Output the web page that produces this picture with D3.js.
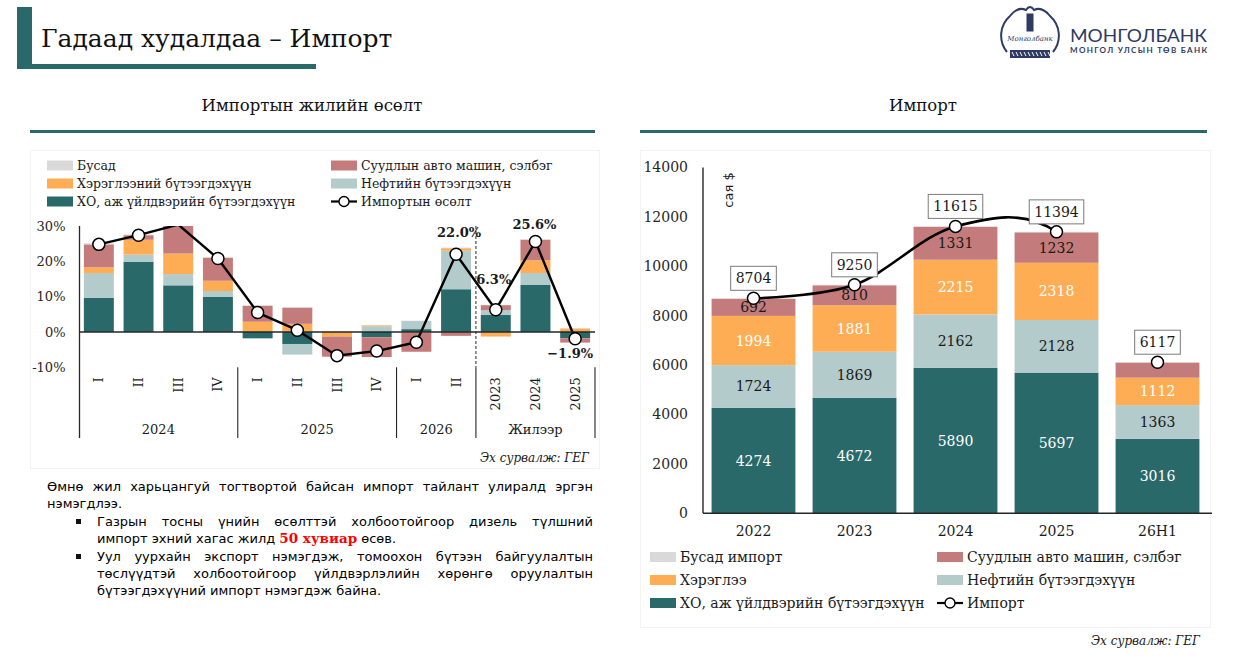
<!DOCTYPE html>
<html>
<head>
<meta charset="utf-8">
<script src="https://cdn.jsdelivr.net/npm/d3@7"></script>
<style>
  body { margin: 0; background: #fff; }
  #wrap { position: relative; width: 1239px; height: 665px; overflow: hidden; background: #fff; }
  #wrap svg { position: absolute; left: 0; top: 0; }
  #note { position: absolute; left: 47px; top: 478px; width: 546px;
          font-family: 'DejaVu Sans', sans-serif; font-size: 13px; line-height: 17px; color: #000; }
  #note .j { text-align: justify; text-align-last: justify; }
  #note .blk { position: relative; padding-left: 50px; margin-top: 1px; }
  #note .blk::before { content: ''; position: absolute; left: 29px; top: 6px; width: 5px; height: 5px; background: #111; }
  #note .red { color: #f00; font-weight: bold; font-family: 'DejaVu Serif', serif; font-size: 13.5px; }
</style>
</head>
<body>
<div id="wrap">
  <div id="note">
    <div class="j">Өмнө жил харьцангуй тогтвортой байсан импорт тайлант улиралд эргэн</div>
    <div>нэмэгдлээ.</div>
    <div class="blk">
      <div class="j">Газрын тосны үнийн өсөлттэй холбоотойгоор дизель түлшний</div>
      <div>импорт эхний хагас жилд <span class="red">50 хувиар</span> өсөв.</div>
    </div>
    <div class="blk">
      <div class="j">Уул уурхайн экспорт нэмэгдэж, томоохон бүтээн байгуулалтын</div>
      <div class="j">төслүүдтэй холбоотойгоор үйлдвэрлэлийн хөрөнгө оруулалтын</div>
      <div>бүтээгдэхүүний импорт нэмэгдэж байна.</div>
    </div>
  </div>
</div>
<script>
// ---- data: left chart (import growth, % y/y contributions) ----
const quarters = ['I', 'II', 'III', 'IV', 'I', 'II', 'III', 'IV', 'I', 'II', '2023', '2024', '2025'];
const groupNames = ['2024', '2025', '2026', 'Жилээр'];
const groupSizes = [4, 4, 2, 3];
const growthManuf    = [9.7, 19.9, 13.2, 10.0, -1.8, -3.4, 0.0, -1.5, 0.8, 12.1, 4.8, 13.4, -1.8];
const growthOil      = [7.0, 2.0, 3.2, 1.6, 0.0, -3.0, 0.0, 1.6, 2.3, 10.9, 1.4, 3.3, 0.0];
const growthConsumer = [1.6, 4.2, 5.8, 2.9, 2.9, 2.3, -1.3, 0.3, -0.3, 0.7, -1.3, 3.6, 1.0];
const growthCars     = [6.5, 1.3, 8.3, 6.5, 4.5, 4.6, -5.7, -5.6, -5.3, -1.1, 1.4, 5.8, -1.2];
const growthOther    = [0.3, 0.2, 0.3, 0.2, 0.2, 0.2, 0.1, 0.1, 0.1, 0.2, 0.1, 0.2, 0.1];
const growthTotal    = [24.8, 27.4, 30.4, 20.8, 5.5, 0.5, -6.7, -5.4, -2.9, 22.0, 6.3, 25.6, -1.9];
const growthTicks = [-10, 0, 10, 20, 30];
const labelledIdx = [9, 10, 11, 12];

// ---- data: right chart (imports, mln USD) ----
const years = ['2022', '2023', '2024', '2025', '26H1'];
const impManuf    = [4274, 4672, 5890, 5697, 3016];
const impOil      = [1724, 1869, 2162, 2128, 1363];
const impConsumer = [1994, 1881, 2215, 2318, 1112];
const impCars     = [692, 810, 1331, 1232, 610];
const impOther    = [20, 18, 17, 19, 16];
const impTotal    = [8704, 9250, 11615, 11394, 6117];
const impTicks = [0, 2000, 4000, 6000, 8000, 10000, 12000, 14000];

const TEAL = '#29696a';
const KEYS = ['manuf', 'oil', 'consumer', 'cars', 'other'];
const COLORS = { manuf: TEAL, oil: '#b3cbcb', consumer: '#ffad55', cars: '#c37c7b', other: '#d9d9d9' };
const SERIF = "'DejaVu Serif', serif";
const INK = '#1a1a1a';

const svg = d3.select('#wrap').insert('svg', '#note')
  .attr('width', 1239).attr('height', 665);

// ---- header ----
svg.append('rect').attr('x', 17).attr('y', 7).attr('width', 15).attr('height', 62).attr('fill', TEAL);
svg.append('rect').attr('x', 17).attr('y', 64).attr('width', 299).attr('height', 5).attr('fill', TEAL);
svg.append('text').attr('x', 41).attr('y', 47).attr('font-family', SERIF).attr('font-size', 25)
  .attr('fill', '#111').text('Гадаад худалдаа – Импорт');

// logo
const logo = svg.append('g').attr('fill', 'none').attr('stroke', '#2e3b63');
logo.append('path').attr('stroke-width', 2)
  .attr('d', 'M1007,52 A26,26 0 0 1 1010,16 Q1018,6 1026,10 Q1030,4 1034,10 Q1042,6 1050,16 A26,26 0 0 1 1053,52');
logo.append('rect').attr('x', 1027).attr('y', 14).attr('width', 6).attr('height', 17).attr('fill', '#2e3b63');
logo.append('text').attr('x', 1030).attr('y', 41).attr('text-anchor', 'middle').attr('stroke', 'none')
  .attr('fill', '#2e3b63').attr('font-family', SERIF).attr('font-style', 'italic').attr('font-size', 7).text('Монголбанк');
logo.append('rect').attr('x', 1010).attr('y', 50).attr('width', 40).attr('height', 8).attr('fill', '#2e3b63').attr('stroke', 'none');
logo.append('path').attr('stroke', '#fff').attr('stroke-width', 1)
  .attr('d', d3.range(1012, 1049, 4).map((x) => `M${x},52 l2,4`).join(' '));
svg.append('text').attr('x', 1070).attr('y', 42).attr('font-family', 'Lato, sans-serif').attr('font-size', 17)
  .attr('fill', '#2e3b63').attr('textLength', 137).attr('lengthAdjust', 'spacingAndGlyphs').text('МОНГОЛБАНК');
svg.append('text').attr('x', 1070).attr('y', 53).attr('font-family', 'Lato, sans-serif').attr('font-size', 8)
  .attr('font-weight', 'bold').attr('fill', '#2e3b63').attr('textLength', 137).attr('lengthAdjust', 'spacing')
  .text('МОНГОЛ УЛСЫН ТӨВ БАНК');

// panel titles
[['Импортын жилийн өсөлт', 312, 30, 565], ['Импорт', 923, 640, 567]].forEach(([t, cx, x0, w]) => {
  svg.append('text').attr('x', cx).attr('y', 111).attr('text-anchor', 'middle')
    .attr('font-family', SERIF).attr('font-size', 16.5).attr('fill', '#111').text(t);
  svg.append('rect').attr('x', x0).attr('y', 130).attr('width', w).attr('height', 3).attr('fill', TEAL);
});

// faint chart frames
svg.append('rect').attr('x', 30.5).attr('y', 150.5).attr('width', 569).attr('height', 318)
  .attr('fill', 'none').attr('stroke', '#f3f3f3');
svg.append('rect').attr('x', 640.5).attr('y', 150.5).attr('width', 570).attr('height', 477)
  .attr('fill', 'none').attr('stroke', '#f3f3f3');

// legend helper
function legend(items, x0, x1, y0, dy, size, txtGap) {
  items.forEach((it, i) => {
    const x = i % 2 === 0 ? x0 : x1;
    const y = y0 + Math.floor(i / 2) * dy;
    if (it.key === 'line') {
      svg.append('line').attr('x1', x).attr('x2', x + 26).attr('y1', y).attr('y2', y)
        .attr('stroke', '#000').attr('stroke-width', 2.2);
      svg.append('circle').attr('cx', x + 13).attr('cy', y).attr('r', 5)
        .attr('fill', '#fff').attr('stroke', '#000').attr('stroke-width', 1.4);
    } else {
      svg.append('rect').attr('x', x).attr('y', y - 5).attr('width', 26).attr('height', 10).attr('fill', COLORS[it.key]);
    }
    svg.append('text').attr('x', x + 26 + txtGap).attr('y', y).attr('dy', '0.36em')
      .attr('font-family', SERIF).attr('font-size', size).attr('fill', INK).text(it.name);
  });
}

// ================= LEFT CHART =================
const rowsL = quarters.map((q, i) => ({
  manuf: growthManuf[i], oil: growthOil[i], consumer: growthConsumer[i], cars: growthCars[i], other: growthOther[i],
}));
const stackL = d3.stack().keys(KEYS).offset(d3.stackOffsetDiverging)(rowsL);

const xL = d3.scaleBand().domain(d3.range(quarters.length)).range([79, 595])
  .paddingInner(0.245).paddingOuter(0.1225);
const yL = d3.scaleLinear().domain([-10, 30]).range([367.3, 226]);
const cxL = (i) => xL(i) + xL.bandwidth() / 2;
const edgeL = (k) => xL.range()[0] + k * xL.step();

svg.append('clipPath').attr('id', 'clipL').append('rect')
  .attr('x', 60).attr('y', yL(30)).attr('width', 560).attr('height', 200);

const plotL = svg.append('g').attr('clip-path', 'url(#clipL)');
plotL.selectAll('g.series').data(stackL).join('g').attr('class', 'series')
  .attr('fill', (d) => COLORS[d.key])
  .selectAll('rect').data((d) => d).join('rect')
  .attr('x', (d, i) => xL(i))
  .attr('y', (d) => yL(d[1]))
  .attr('width', xL.bandwidth())
  .attr('height', (d) => Math.max(0, yL(d[0]) - yL(d[1])));

// zero line and y axis
svg.append('line').attr('x1', 79.5).attr('x2', 595).attr('y1', yL(0)).attr('y2', yL(0))
  .attr('stroke', '#262626').attr('stroke-width', 1.3);
const yAxisL = svg.append('g').attr('transform', 'translate(79.5,0)')
  .call(d3.axisLeft(yL).tickValues(growthTicks).tickSize(0).tickPadding(14).tickFormat((d) => `${d}%`));
yAxisL.select('.domain').remove();
yAxisL.selectAll('text').attr('font-family', SERIF).attr('font-size', 13).attr('fill', '#262626');
svg.append('line').attr('x1', 79.5).attr('x2', 79.5).attr('y1', yL(30)).attr('y2', 438)
  .attr('stroke', '#262626').attr('stroke-width', 1.3);

// category axis (rotated labels)
const xAxisL = svg.append('g').attr('transform', `translate(0,${yL(-10)})`)
  .call(d3.axisBottom(xL).tickSize(0).tickFormat((i) => quarters[i]));
xAxisL.select('.domain').remove();
xAxisL.selectAll('text').attr('transform', 'rotate(-90)').attr('text-anchor', 'end')
  .attr('x', -10).attr('y', 0).attr('dy', '0.35em')
  .attr('font-family', SERIF).attr('font-size', 13).attr('fill', INK);

// group separators and labels
let start = 0;
groupNames.forEach((g, gi) => {
  const end = start + groupSizes[gi];
  svg.append('text').attr('x', (edgeL(start) + edgeL(end)) / 2).attr('y', 434).attr('text-anchor', 'middle')
    .attr('font-family', SERIF).attr('font-size', 13).attr('fill', INK).text(g);
  svg.append('line').attr('x1', edgeL(end)).attr('x2', edgeL(end)).attr('y1', yL(-10)).attr('y2', 438)
    .attr('stroke', '#262626').attr('stroke-width', 1.1);
  if (gi === groupNames.length - 2) {
    svg.append('line').attr('x1', edgeL(end)).attr('x2', edgeL(end)).attr('y1', yL(30)).attr('y2', yL(-10))
      .attr('stroke', '#262626').attr('stroke-width', 1).attr('stroke-dasharray', '3,2');
  }
  start = end;
});

// growth line
const lineL = d3.line().x((d, i) => cxL(i)).y((d) => yL(d));
plotL.append('path').datum(growthTotal).attr('d', lineL)
  .attr('fill', 'none').attr('stroke', '#000').attr('stroke-width', 2.4).attr('stroke-linejoin', 'round');
svg.append('g').selectAll('circle')
  .data(growthTotal.map((v, i) => ({ v, i })).filter((d) => d.v <= yL.domain()[1]))
  .join('circle')
  .attr('cx', (d) => cxL(d.i)).attr('cy', (d) => yL(d.v)).attr('r', 6)
  .attr('fill', '#fff').attr('stroke', '#000').attr('stroke-width', 1.5);

const labelShift = { 9: [3, -22], 10: [-2, -30], 11: [-1, -17], 12: [-5, 15] };
svg.append('g').selectAll('text').data(labelledIdx).join('text')
  .attr('x', (i) => cxL(i) + labelShift[i][0])
  .attr('y', (i) => yL(growthTotal[i]) + labelShift[i][1])
  .attr('dy', '0.36em').attr('text-anchor', 'middle')
  .attr('font-family', SERIF).attr('font-weight', 'bold').attr('font-size', 13).attr('fill', INK)
  .text((i) => `${d3.format('.1f')(growthTotal[i])}%`);

legend([
  { key: 'other', name: 'Бусад' },
  { key: 'cars', name: 'Суудлын авто машин, сэлбэг' },
  { key: 'consumer', name: 'Хэрэглээний бүтээгдэхүүн' },
  { key: 'oil', name: 'Нефтийн бүтээгдэхүүн' },
  { key: 'manuf', name: 'ХО, аж үйлдвэрийн бүтээгдэхүүн' },
  { key: 'line', name: 'Импортын өсөлт' },
], 47, 331, 165.5, 18, 12.5, 4);

svg.append('text').attr('x', 589).attr('y', 462).attr('text-anchor', 'end')
  .attr('font-family', SERIF).attr('font-style', 'italic').attr('font-size', 12).attr('fill', INK)
  .text('Эх сурвалж: ГЕГ');

// ================= RIGHT CHART =================
const rowsR = years.map((y, i) => ({
  year: y, manuf: impManuf[i], oil: impOil[i], consumer: impConsumer[i], cars: impCars[i], other: impOther[i],
}));
const stackR = d3.stack().keys(KEYS)(rowsR);

const xR = d3.scaleBand().domain(years).range([703, 1208]).paddingInner(0.17).paddingOuter(0.085);
const yR = d3.scaleLinear().domain([0, 14000]).range([513.3, 167.5]);
const cxR = (y) => xR(y) + xR.bandwidth() / 2;

const segR = svg.append('g').selectAll('g.series').data(stackR).join('g').attr('class', 'series')
  .attr('fill', (d) => COLORS[d.key]);
segR.selectAll('rect').data((d) => d).join('rect')
  .attr('x', (d) => xR(d.data.year))
  .attr('y', (d) => yR(d[1]))
  .attr('width', xR.bandwidth())
  .attr('height', (d) => yR(d[0]) - yR(d[1]));

const labelColor = { manuf: '#fff', oil: INK, consumer: '#fff', cars: INK };
stackR.filter((s) => s.key !== 'other').forEach((s) => {
  svg.append('g').selectAll('text')
    .data(s.filter((d) => yR(d[0]) - yR(d[1]) >= 16))
    .join('text')
    .attr('x', (d) => cxR(d.data.year))
    .attr('y', (d) => (yR(d[0]) + yR(d[1])) / 2)
    .attr('dy', '0.36em').attr('text-anchor', 'middle')
    .attr('font-family', SERIF).attr('font-size', 14).attr('fill', labelColor[s.key])
    .text((d) => d.data[s.key]);
});

// axes
const yAxisR = svg.append('g').attr('transform', 'translate(703,0)')
  .call(d3.axisLeft(yR).tickValues(impTicks).tickSize(0).tickPadding(15));
yAxisR.select('.domain').remove();
yAxisR.selectAll('text').attr('font-family', SERIF).attr('font-size', 14).attr('fill', '#262626')
  .text((d) => d);
svg.append('line').attr('x1', 703).attr('x2', 703).attr('y1', yR(14000)).attr('y2', yR(0))
  .attr('stroke', '#262626').attr('stroke-width', 1.4);
const xAxisR = svg.append('g').attr('transform', `translate(0,${yR(0)})`)
  .call(d3.axisBottom(xR).tickSize(0).tickPadding(13));
xAxisR.select('.domain').attr('stroke', '#262626').attr('stroke-width', 1.6).attr('d', 'M703,0H1212');
xAxisR.selectAll('text').attr('font-family', SERIF).attr('font-size', 14).attr('fill', INK);

svg.append('text').attr('transform', 'translate(728,190) rotate(-90)').attr('text-anchor', 'middle')
  .attr('dy', '0.35em').attr('font-family', "'DejaVu Sans', sans-serif").attr('font-size', 13)
  .attr('fill', INK).text('сая $');

// smoothed import line (drawn over full years only)
const fullYearEnd = cxR(years[years.length - 2]);
svg.append('clipPath').attr('id', 'clipR').append('rect')
  .attr('x', 690).attr('y', 150).attr('width', fullYearEnd - 690 + 0.5).attr('height', 380);
const lineR = d3.line().x((d, i) => cxR(years[i])).y((d) => yR(d)).curve(d3.curveCardinal.tension(0));
svg.append('path').datum(impTotal).attr('clip-path', 'url(#clipR)').attr('d', lineR)
  .attr('fill', 'none').attr('stroke', '#000').attr('stroke-width', 2.6);

const pts = svg.append('g').selectAll('g').data(years).join('g');
pts.append('circle').attr('cx', (y) => cxR(y)).attr('cy', (y, i) => yR(impTotal[i])).attr('r', 6)
  .attr('fill', '#fff').attr('stroke', '#000').attr('stroke-width', 1.5);
pts.each(function (y, i) {
  const g = d3.select(this);
  const py = yR(impTotal[i]);
  const t = g.append('text').attr('x', cxR(y)).attr('y', py - 20).attr('dy', '0.36em').attr('text-anchor', 'middle')
    .attr('font-family', SERIF).attr('font-size', 14).attr('fill', INK).text(impTotal[i]);
  const w = t.node().getComputedTextLength() + 10;
  g.insert('rect', 'text').attr('x', cxR(y) - w / 2).attr('y', py - 32).attr('width', w).attr('height', 24)
    .attr('fill', '#fff').attr('stroke', '#7a7a7a').attr('stroke-width', 1);
});

legend([
  { key: 'other', name: 'Бусад импорт' },
  { key: 'cars', name: 'Суудлын авто машин, сэлбэг' },
  { key: 'consumer', name: 'Хэрэглээ' },
  { key: 'oil', name: 'Нефтийн бүтээгдэхүүн' },
  { key: 'manuf', name: 'ХО, аж үйлдвэрийн бүтээгдэхүүн' },
  { key: 'line', name: 'Импорт' },
], 650, 937, 557, 23, 14, 4);

svg.append('text').attr('x', 1200).attr('y', 645).attr('text-anchor', 'end')
  .attr('font-family', SERIF).attr('font-style', 'italic').attr('font-size', 12).attr('fill', INK)
  .text('Эх сурвалж: ГЕГ');
</script>
</body>
</html>
